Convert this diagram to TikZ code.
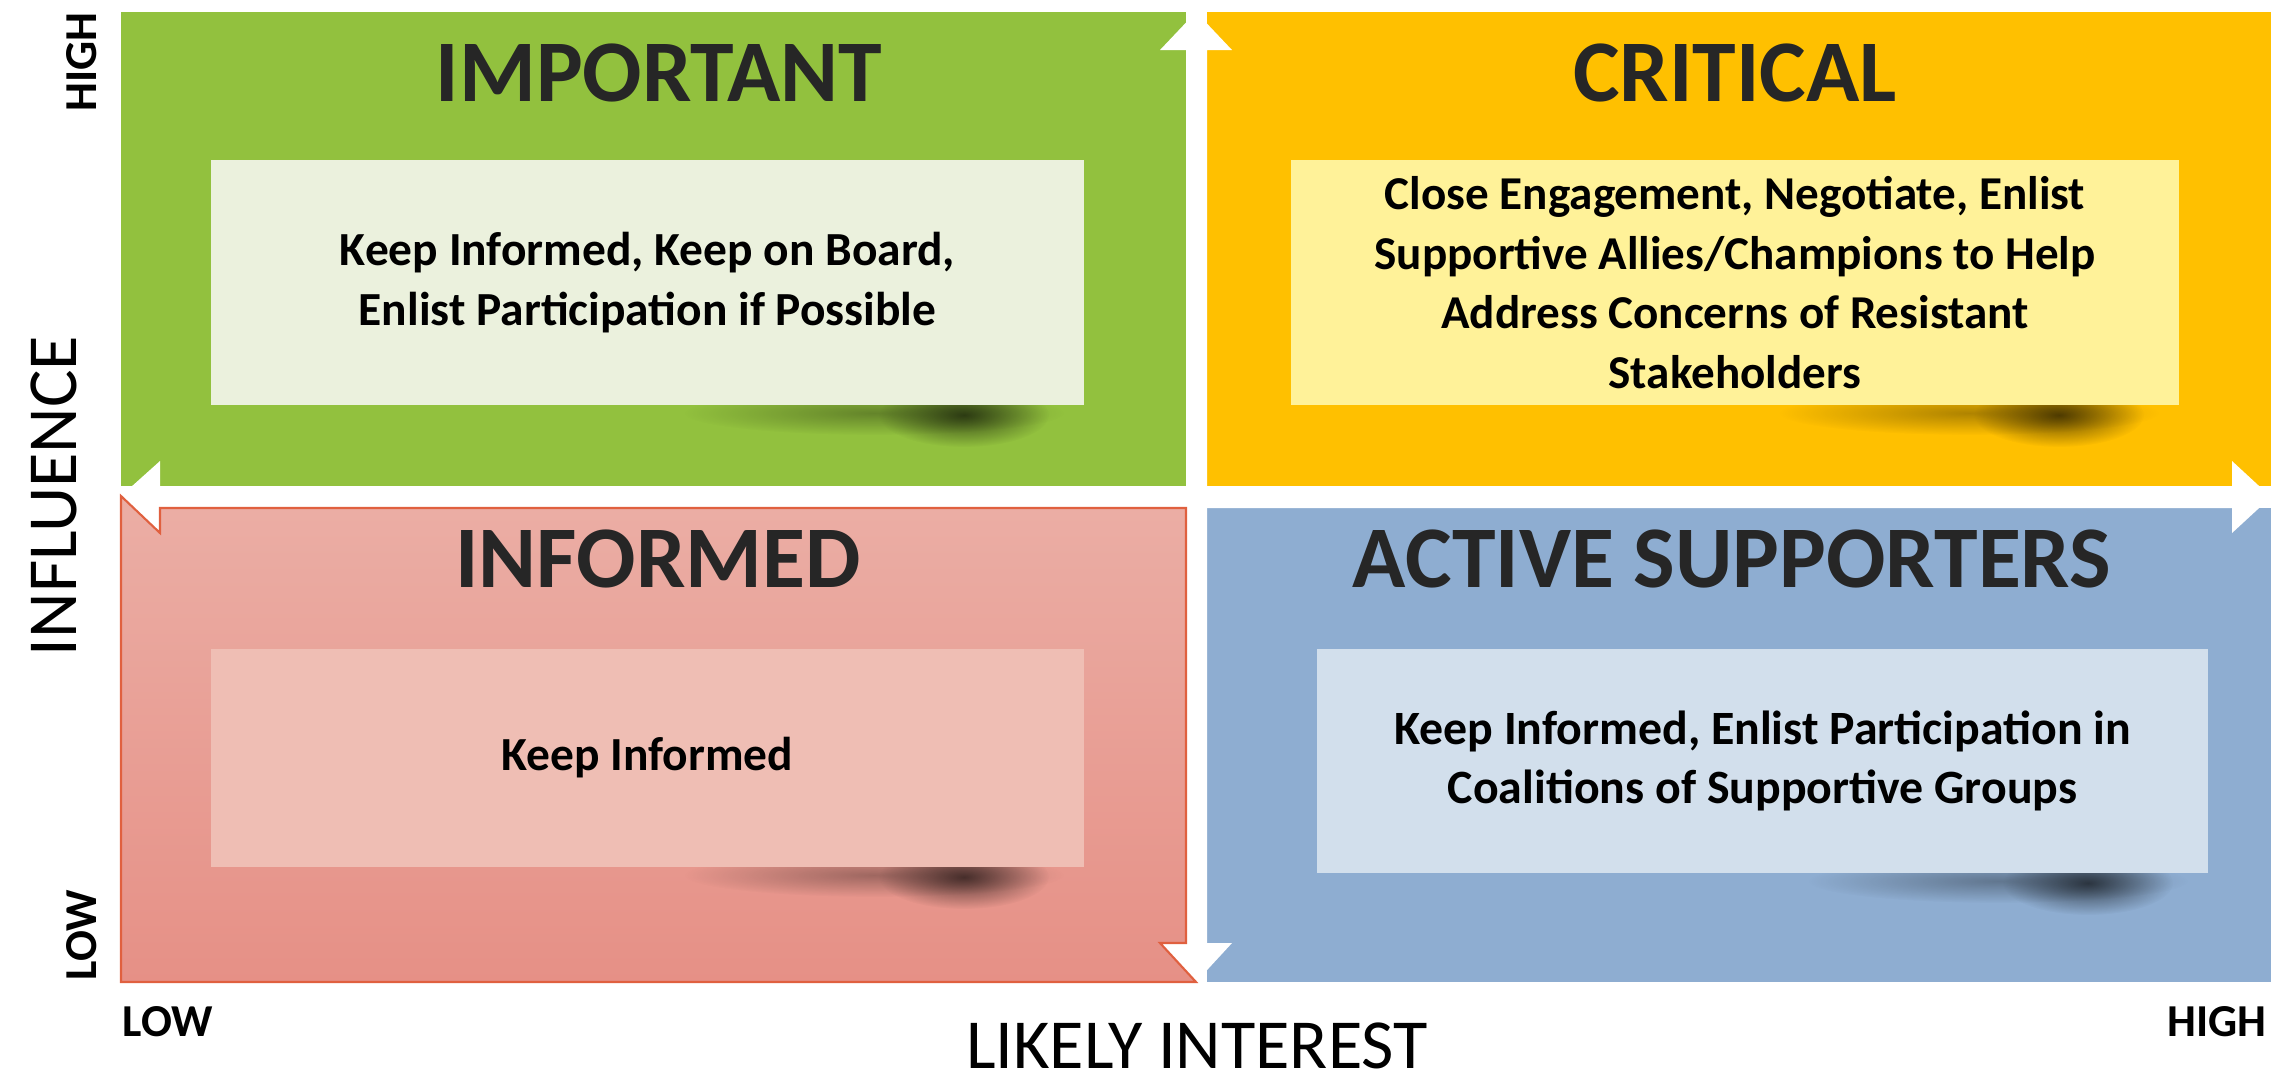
\documentclass[tikz,border=0pt]{standalone}
\usepackage{fontspec}
\setmainfont{Carlito}
\usetikzlibrary{fadings}

\definecolor{leafgreen}{HTML}{92C13E}
\definecolor{sungold}{HTML}{FFC000}
\definecolor{steelblue}{HTML}{8EADD1}
\definecolor{salmontop}{HTML}{EBAEA5}
\definecolor{salmonbot}{HTML}{E69086}
\definecolor{salmonedge}{HTML}{E0603F}
\definecolor{greenpale}{HTML}{EBF1DD}
\definecolor{goldpale}{HTML}{FFF299}
\definecolor{salmonpale}{HTML}{EFBEB4}
\definecolor{bluepale}{HTML}{D2DFEC}

\tikzfading[name=softshadow, inner color=transparent!10, outer color=transparent!100]

\begin{document}
\begin{tikzpicture}[x=0.01cm, y=-0.01cm,
  title/.style={font=\fontsize{25}{30}\selectfont\bfseries, text=black!85},
  note/.style={font=\fontsize{13.5}{17}\selectfont\bfseries, align=center, minimum width=8.73cm},
  axis/.style={font=\fontsize{20}{24}\selectfont, inner sep=0pt},
  tick/.style={font=\fontsize{13}{16}\selectfont\bfseries}]
\useasboundingbox (0,0) rectangle (2282,1081);

% quadrants
\fill[leafgreen] (121,12) rectangle (1186,486);
\fill[sungold] (1207,12) rectangle (2271,486);
\fill[steelblue] (1207,508) rectangle (2271,982);

% white axis arrows
\fill[white] (1196,12) -- (1232,50) -- (1207,50) -- (1207,943) -- (1232,943) -- (1196,982)
  -- (1160,943) -- (1186,943) -- (1186,50) -- (1160,50) -- cycle;
\fill[white] (121,496) -- (160,461) -- (160,486) -- (2232,486) -- (2232,461) -- (2271,497)
  -- (2232,533) -- (2232,508) -- (160,508) -- (160,533) -- cycle;

\shade[top color=salmontop, bottom color=salmonbot, draw=salmonedge, line width=0.6pt]
  (121,496) -- (160,533) -- (160,508) -- (1186,508) -- (1186,943) -- (1160,943)
  -- (1196,982) -- (121,982) -- cycle;

% shadows under the boxes
\foreach \rx/\by in {1084/405, 2179/405, 1084/867, 2208/873} {
  \fill[black, opacity=.35, path fading=softshadow] (\rx-210,\by+8) ellipse [x radius=1.9cm, y radius=0.22cm];
  \fill[black, opacity=.7, path fading=softshadow] (\rx-120,\by+10) ellipse [x radius=0.85cm, y radius=0.32cm];
}

% boxes
\node[note, fill=greenpale, minimum height=2.45cm] (board) at (647.5,282.5)
  {Keep Informed, Keep on Board,\\Enlist Participation if Possible};
\node[note, font=\fontsize{13.4}{17}\selectfont\bfseries, fill=goldpale, minimum width=8.88cm, minimum height=2.45cm] (engage) at (1735,282.5)
  {Close Engagement, Negotiate, Enlist\\Supportive Allies/Champions to Help\\Address Concerns of Resistant\\Stakeholders};
\node[note, fill=salmonpale, minimum height=2.18cm] (keepinf) at (647.5,758)
  {Keep Informed};
\node[note, font=\fontsize{13.6}{17}\selectfont\bfseries, fill=bluepale, minimum width=8.91cm, minimum height=2.24cm] (coalit) at (1762.5,761)
  {Keep Informed, Enlist Participation in\\Coalitions of Supportive Groups};

% titles
\node[title] (important) at (659,73) {IMPORTANT};
\node[title] (critical) at (1735,73) {CRITICAL};
\node[title] (informed) at (658,559) {INFORMED};
\node[title] (active) at (1732,559) {ACTIVE SUPPORTERS};

% axes
\node[axis, rotate=90] (influence) at (54,496) {INFLUENCE};
\node[axis] (interest) at (1197,1046) {LIKELY INTEREST};
\node[tick, rotate=90] (infhigh) at (82,62) {HIGH};
\node[tick, rotate=90] (inflow) at (82,935) {LOW};
\node[tick] (intlow) at (168,1022) {LOW};
\node[tick] (inthigh) at (2217,1022) {HIGH};

\end{tikzpicture}
\end{document}
